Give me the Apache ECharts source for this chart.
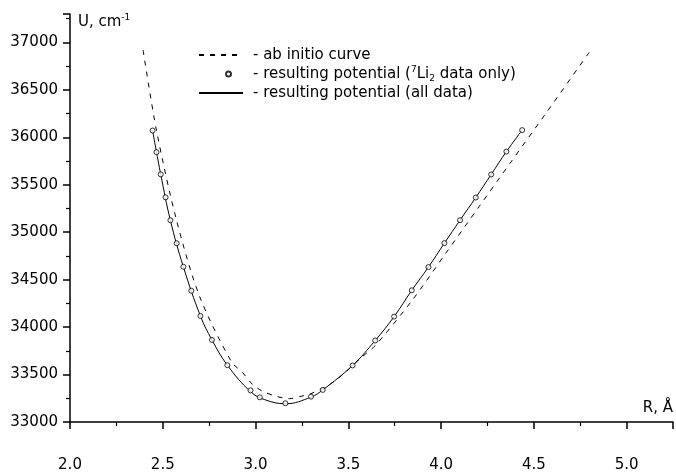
<!DOCTYPE html>
<html>
<head>
<meta charset="utf-8">
<title>Potential curve</title>
<script src="https://cdn.jsdelivr.net/npm/echarts@6/dist/echarts.min.js"></script>
<style>
  html, body { margin: 0; padding: 0; background: #fff; }
  #chart { width: 676px; height: 476px; }
</style>
</head>
<body>
<div id="chart"></div>
<script>
// ab initio curve (dashed)
var abR = [2.394, 2.466, 2.574, 2.699, 2.869, 2.932, 2.985, 3.039, 3.111, 3.183, 3.246, 3.299,
           3.398, 3.469, 3.577, 3.649, 3.846, 4.025, 4.204, 4.383, 4.563, 4.80];
var abU = [36920, 36074, 35128, 34321, 33639, 33517, 33394, 33323, 33271, 33246, 33271, 33299,
           33394, 33499, 33691, 33814, 34287, 34778, 35268, 35758, 36248, 36900];
// resulting potential, 7Li2 data only (circles)
var liR = [2.445, 2.466, 2.489, 2.515, 2.541, 2.575, 2.611, 2.654, 2.703, 2.765, 2.848, 2.973,
           3.023, 3.161, 3.299, 3.362, 3.523, 3.645, 3.747, 3.842, 3.932, 4.018, 4.102, 4.187,
           4.270, 4.352, 4.437];
var liU = [36072, 35844, 35610, 35368, 35126, 34884, 34636, 34383, 34117, 33865, 33599, 33333,
           33260, 33197, 33267, 33338, 33596, 33859, 34111, 34388, 34633, 34885, 35127, 35366,
           35609, 35850, 36076];
// resulting potential, all data (solid)
var allR = [2.445, 2.489, 2.541, 2.611, 2.703, 2.765, 2.848, 2.973, 3.05, 3.161, 3.299, 3.362,
            3.523, 3.645, 3.747, 3.842, 3.932, 4.018, 4.102, 4.187, 4.270, 4.352, 4.437];
var allU = [36072, 35610, 35126, 34636, 34117, 33865, 33599, 33320, 33235, 33192, 33262, 33338,
            33596, 33859, 34111, 34388, 34633, 34885, 35127, 35366, 35609, 35850, 36076];

function pairs(xs, ys) {
  return xs.map(function (x, i) { return [x, ys[i]]; });
}

var font = 'DejaVu Sans';
var chart = echarts.init(document.getElementById('chart'));
var legendText = {
  fontFamily: font, fontSize: 15, color: '#000', lineHeight: 18, padding: [0, 0, 0, 5],
  rich: {
    sup: { fontFamily: font, fontSize: 9, verticalAlign: 'top', lineHeight: 18, padding: [0, 0, 7, 0] },
    sub: { fontFamily: font, fontSize: 9, verticalAlign: 'bottom', lineHeight: 18, padding: [7, 0, 0, 0] }
  }
};
function legendAt(left, top, name, text, w, extra) {
  var l = {
    orient: 'vertical', left: left, top: top, itemGap: 0, selectedMode: false,
    itemWidth: w, itemHeight: 18, data: [name], formatter: text,
    textStyle: Object.assign({}, legendText)
  };
  return Object.assign(l, extra || {});
}

chart.setOption({
  animation: false,
  grid: { left: 70, right: 2, top: 14, bottom: 54 },
  legend: [
    legendAt(193, 41, 'ab initio curve', '- ab initio curve', 44, { itemStyle: { opacity: 0 } }),
    legendAt(220, 60, 'li7', '- resulting potential ({sup|7}Li{sub|2} data only)', 5,
      { itemHeight: 5, textStyle: Object.assign({}, legendText, { padding: [0, 0, 0, 17] }) }),
    legendAt(193, 79, 'all', '- resulting potential (all data)', 44, { itemStyle: { opacity: 0 } })
  ],
  xAxis: {
    type: 'value', min: 2.0, max: 5.25, interval: 0.5,
    name: 'R, Å', nameLocation: 'end', nameGap: 0,
    nameTextStyle: { fontFamily: font, fontSize: 15, color: '#000', align: 'right', verticalAlign: 'bottom', padding: [0, 0, 6, 0] },
    axisLine: { lineStyle: { color: '#000', width: 1.5 } },
    axisTick: { inside: false, length: 7, lineStyle: { color: '#000', width: 1.5 } },
    minorTick: { show: true, splitNumber: 2, length: 4, lineStyle: { color: '#000', width: 1.2 } },
    axisLabel: { fontFamily: font, fontSize: 15, color: '#000', margin: 36, showMaxLabel: false,
      formatter: function (v) { return v.toFixed(1); } },
    splitLine: { show: false }
  },
  yAxis: {
    type: 'value', min: 33000, max: 37300, interval: 500,
    name: 'U, cm{sup|-1}', nameLocation: 'end', nameGap: -8,
    nameTextStyle: { fontFamily: font, fontSize: 15, color: '#000', align: 'left', verticalAlign: 'middle', padding: [0, 0, 0, 8],
      rich: { sup: { fontFamily: font, fontSize: 9, verticalAlign: 'top', padding: [0, 0, 8, 0] } } },
    axisLine: { show: true, lineStyle: { color: '#000', width: 1.5 } },
    axisTick: { show: true, inside: false, length: 7, lineStyle: { color: '#000', width: 1.5 } },
    minorTick: { show: true, splitNumber: 2, length: 4, lineStyle: { color: '#000', width: 1.2 } },
    axisLabel: { fontFamily: font, fontSize: 15, color: '#000', margin: 12, showMaxLabel: false,
      formatter: function (v) { return String(v); } },
    splitLine: { show: false }
  },
  series: [
    {
      name: 'ab initio curve', type: 'line', data: pairs(abR, abU), smooth: 0.3,
      symbol: 'none', lineStyle: { color: '#000', width: 1, type: [5, 6] }, itemStyle: { color: '#000' }
    },
    {
      name: 'li7', type: 'scatter', data: pairs(liR, liU), symbol: 'circle', symbolSize: 5,
      itemStyle: { color: '#fff', borderColor: '#000', borderWidth: 1 }, z: 3
    },
    {
      name: 'all', type: 'line', data: pairs(allR, allU), smooth: 0.4,
      symbol: 'none', lineStyle: { color: '#000', width: 1 }, itemStyle: { color: '#000' }
    }
  ]
});
</script>
</body>
</html>
